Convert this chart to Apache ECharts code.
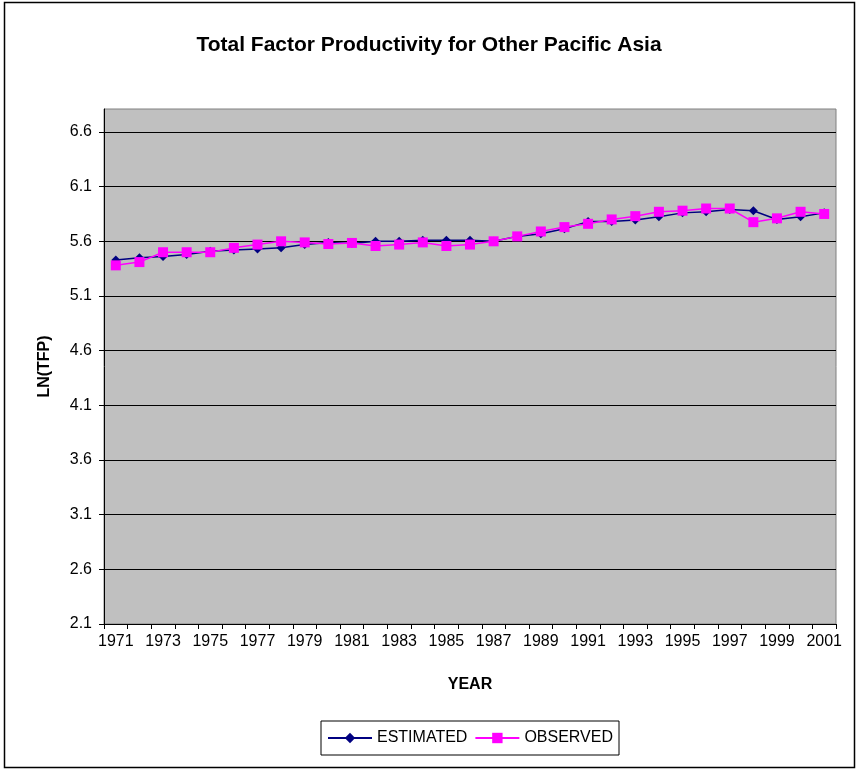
<!DOCTYPE html>
<html>
<head>
<meta charset="utf-8">
<script src="https://cdn.jsdelivr.net/npm/echarts@6/dist/echarts.min.js"></script>
<style>
html,body{margin:0;padding:0;background:#fff;}
#c{width:858px;height:769px;}
</style>
</head>
<body>
<div id="c"></div>
<script>
var years = ['1971','1972','1973','1974','1975','1976','1977','1978','1979','1980','1981','1982','1983','1984','1985','1986','1987','1988','1989','1990','1991','1992','1993','1994','1995','1996','1997','1998','1999','2000','2001'];
var estimated = [5.43,5.45,5.46,5.48,5.51,5.52,5.53,5.54,5.57,5.59,5.58,5.60,5.60,5.61,5.61,5.61,5.60,5.645,5.67,5.715,5.78,5.78,5.795,5.825,5.86,5.87,5.89,5.88,5.80,5.825,5.86];
var observed = [5.38,5.41,5.50,5.50,5.50,5.54,5.57,5.60,5.59,5.575,5.585,5.557,5.57,5.59,5.557,5.57,5.60,5.645,5.69,5.73,5.76,5.80,5.83,5.87,5.88,5.90,5.90,5.775,5.81,5.87,5.85];
var yMin = 2.1, yMax = 6.81, yStep = 0.5;

var chart = echarts.init(document.getElementById('c'), null, {renderer:'canvas'});
var font = 'Liberation Sans, Arial, sans-serif';
chart.setOption({
  animation:false,
  backgroundColor:'#fff',
  title:{
    text:'Total Factor Productivity for Other Pacific Asia',
    left:'center', top:30,
    textStyle:{fontFamily:font, fontSize:21, fontWeight:'bold', color:'#000'}
  },
  legend:{
    top:721, left:321,
    itemGap:7, itemWidth:44, itemHeight:13,
    padding:[9,6,9,6],
    borderColor:'#000', borderWidth:1,
    textStyle:{fontFamily:font, fontSize:16, color:'#000'},
    data:['ESTIMATED','OBSERVED']
  },
  grid:{
    left:104, right:22, top:109, bottom:145,
    show:true, backgroundColor:'#C0C0C0', borderColor:'#808080', borderWidth:1
  },
  xAxis:{
    type:'category', data:years, boundaryGap:true,
    name:'YEAR', nameLocation:'middle', nameGap:53,
    nameTextStyle:{fontFamily:font, fontSize:16, fontWeight:'bold', color:'#000'},
    axisLine:{show:true, lineStyle:{color:'#000', width:1}},
    axisTick:{show:true, interval:0, length:5, lineStyle:{color:'#000'}},
    axisLabel:{interval:1, fontFamily:font, fontSize:16, color:'#000', margin:10},
    splitLine:{show:false}
  },
  yAxis:{
    type:'value', min:yMin, max:yMax, interval:yStep,
    name:'LN(TFP)', nameLocation:'middle', nameGap:51, nameRotate:90,
    nameTextStyle:{fontFamily:font, fontSize:16, fontWeight:'bold', color:'#000'},
    axisLine:{show:true, lineStyle:{color:'#000', width:1}},
    axisTick:{show:true, length:5, lineStyle:{color:'#000'}},
    axisLabel:{fontFamily:font, fontSize:16, color:'#000', margin:12, showMaxLabel:false,
      formatter:function(v){return v.toFixed(1);}},
    splitLine:{show:true, showMaxLine:false, showMinLine:false, lineStyle:{color:'#000', width:1}}
  },
  series:[
    {name:'ESTIMATED', type:'line', data:estimated, symbol:'diamond', symbolSize:[9,9],
      itemStyle:{color:'#000080'}, lineStyle:{color:'#000080', width:1.5}, z:2},
    {name:'OBSERVED', type:'line', data:observed, symbol:'rect', symbolSize:10,
      itemStyle:{color:'#FF00FF'}, lineStyle:{color:'#FF00FF', width:1.5}, z:3}
  ],
  graphic:[
    {type:'rect', shape:{x:4.5, y:2.5, width:850, height:765}, style:{fill:null, stroke:'#000', lineWidth:1.5}, silent:true}
  ]
});
</script>
</body>
</html>
